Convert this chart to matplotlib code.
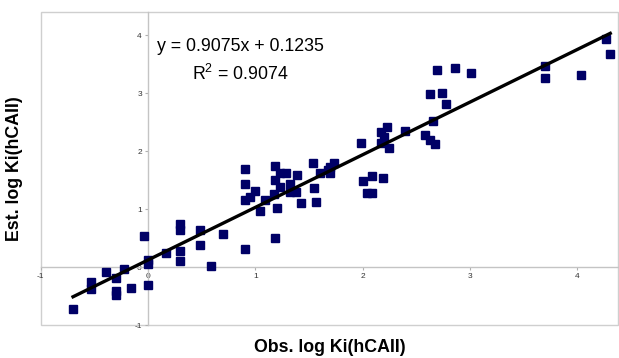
import matplotlib.pyplot as plt
from matplotlib.patches import Rectangle

plt.rcParams['font.family'] = ['Liberation Sans', 'DejaVu Sans']
plt.rcParams['axes.unicode_minus'] = False
plt.rcParams['mathtext.fontset'] = 'custom'
plt.rcParams['mathtext.rm'] = 'Liberation Sans'
plt.rcParams['mathtext.it'] = 'Liberation Sans'

obs = [-0.70, -0.53, -0.53, -0.39, -0.30, -0.30, -0.30, -0.22, -0.16, -0.04,
       0.00, 0.00, 0.00, 0.17, 0.30, 0.30, 0.30, 0.30, 0.48, 0.48,
       0.59, 0.70, 0.90, 0.90, 0.90, 0.90, 0.95, 1.00, 1.04, 1.09,
       1.17, 1.18, 1.18, 1.18, 1.20, 1.23, 1.29, 1.23, 1.32, 1.32,
       1.38, 1.39, 1.43, 1.54, 1.55, 1.57, 1.60, 1.68, 1.70, 1.73,
       1.70, 1.99, 2.00, 2.04, 2.09, 2.09, 2.19, 2.17, 2.20, 2.17,
       2.23, 2.25, 2.40, 2.58, 2.63, 2.68, 2.66, 2.63, 2.74, 2.78,
       2.69, 2.86, 3.01, 3.70, 3.70, 4.04, 4.27, 4.31]
est = [-0.72, -0.25, -0.37, -0.09, -0.18, -0.41, -0.48, -0.03, -0.36, 0.54,
       0.12, 0.06, -0.31, 0.25, 0.75, 0.64, 0.28, 0.10, 0.64, 0.38,
       0.02, 0.58, 0.31, 1.69, 1.44, 1.16, 1.21, 1.31, 0.97, 1.16,
       1.27, 1.74, 1.50, 0.51, 1.02, 1.62, 1.62, 1.38, 1.44, 1.30,
       1.30, 1.59, 1.10, 1.80, 1.36, 1.13, 1.62, 1.67, 1.73, 1.80,
       1.63, 2.15, 1.48, 1.28, 1.28, 1.57, 1.54, 2.15, 2.24, 2.33,
       2.41, 2.06, 2.35, 2.28, 2.19, 2.13, 2.52, 2.98, 3.01, 2.82,
       3.41, 3.43, 3.35, 3.47, 3.26, 3.31, 3.94, 3.67]

slope = 0.9075
intercept = 0.1235
r2 = 0.9074
fit_x = [min(obs), max(obs)]
fit_y = [slope * v + intercept for v in fit_x]

fig = plt.figure(figsize=(6.19, 3.58), dpi=100)
ax = fig.add_axes([0.066, 0.092, 0.932, 0.874])

ax.plot(obs, est, linestyle='none', marker='s', ms=5.6, color='#000066', zorder=3)
ax.plot(fit_x, fit_y, color='black', lw=2.4, zorder=4)

ax.set_xlim(-1, 4.38)
ax.set_ylim(-1, 4.4)

# axes crossing at origin, excel style
ax.spines['left'].set_position('zero')
ax.spines['bottom'].set_position('zero')
ax.spines['top'].set_visible(False)
ax.spines['right'].set_visible(False)
for s in ['left', 'bottom']:
    ax.spines[s].set_color('#c4c4c4')
    ax.spines[s].set_linewidth(1)
ax.add_patch(Rectangle((0, 0), 1, 1, transform=ax.transAxes, fill=False,
                       ec='#cfcfcf', lw=1, clip_on=False, zorder=0))

ax.set_xticks([-1, 0, 1, 2, 3, 4])
ax.set_yticks([-1, 0, 1, 2, 3, 4])
ax.tick_params(axis='both', labelsize=6, color='#b0b0b0', length=2.5,
               width=0.8, labelcolor='#333333', pad=2)

ax.text(0.86, 3.81, 'y = %.4fx + %.4f' % (slope, intercept), ha='center',
        va='center', fontsize=12.8)
ax.text(0.86, 3.34, 'R$^2$ = %.4f' % r2, ha='center', va='center', fontsize=12.8)

fig.text(0.533, 0.028, 'Obs. log Ki(hCAII)', ha='center', va='center',
         fontsize=12.8, fontweight='bold')
fig.text(0.023, 0.53, 'Est. log Ki(hCAII)', ha='center', va='center',
         rotation=90, fontsize=12.8, fontweight='bold')

fig.savefig('out.png', dpi=100)
